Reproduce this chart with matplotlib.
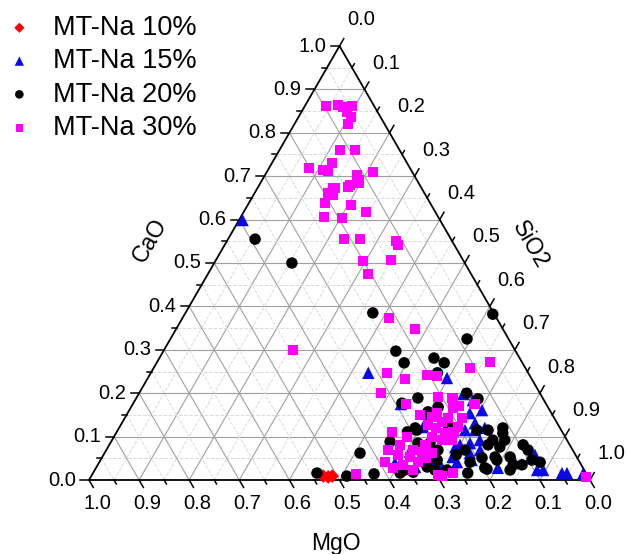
import numpy as np
import matplotlib.pyplot as plt

plt.rcParams['font.family'] = ['Liberation Sans', 'DejaVu Sans']

# compositions (CaO and SiO2 fractions, MgO is the balance)
na10_cao = [0.009, 0.007, 0.009]
na10_sio2 = [0.463, 0.474, 0.481]

na15_cao = [0.599, 0.247, 0.235, 0.175, 0.198, 0.184, 0.161, 0.154, 0.115, 0.092,
            0.085, 0.069, 0.053, 0.041, 0.035, 0.041, 0.065, 0.039, 0.030, 0.028,
            0.039, 0.058, 0.023, 0.023, 0.016, 0.016, 0.014, 0.062, 0.138, 0.122,
            0.046, 0.131, 0.081, 0.120, 0.115, 0.076]
na15_sio2 = [0.007, 0.434, 0.597, 0.535, 0.648, 0.674, 0.704, 0.683, 0.713, 0.734,
             0.718, 0.746, 0.699, 0.714, 0.684, 0.661, 0.608, 0.591, 0.636, 0.802,
             0.831, 0.861, 0.883, 0.895, 0.936, 0.946, 0.979, 0.729, 0.606, 0.606,
             0.741, 0.705, 0.700, 0.730, 0.693, 0.693]

na20_cao = [0.555, 0.500, 0.385, 0.382, 0.325, 0.297, 0.270, 0.281, 0.270, 0.247,
            0.200, 0.187, 0.062, 0.016, 0.009, 0.014, 0.016, 0.025, 0.120, 0.111,
            0.085, 0.085, 0.046, 0.030, 0.018, 0.016, 0.023, 0.023, 0.069, 0.157,
            0.189, 0.168, 0.115, 0.115, 0.092, 0.108, 0.081, 0.076, 0.051, 0.053,
            0.053, 0.081, 0.069, 0.035, 0.035, 0.046, 0.041, 0.028, 0.023, 0.120,
            0.046, 0.069, 0.115, 0.092, 0.046, 0.177, 0.127, 0.088, 0.023, 0.058,
            0.041]
na20_sio2 = [0.054, 0.155, 0.374, 0.615, 0.592, 0.464, 0.494, 0.548, 0.574, 0.572,
             0.654, 0.683, 0.510, 0.447, 0.510, 0.562, 0.748, 0.782, 0.591, 0.580,
             0.614, 0.638, 0.672, 0.660, 0.638, 0.613, 0.679, 0.703, 0.716, 0.598,
             0.562, 0.613, 0.717, 0.739, 0.760, 0.772, 0.756, 0.782, 0.759, 0.784,
             0.814, 0.826, 0.842, 0.829, 0.847, 0.861, 0.880, 0.776, 0.829, 0.766,
             0.652, 0.662, 0.597, 0.784, 0.791, 0.536, 0.653, 0.557, 0.619, 0.704,
             0.740]

na30_cao = [0.862, 0.864, 0.859, 0.862, 0.848, 0.836, 0.820, 0.760, 0.760, 0.719,
            0.714, 0.730, 0.712, 0.710, 0.703, 0.691, 0.680, 0.673, 0.638, 0.661,
            0.673, 0.675, 0.684, 0.657, 0.606, 0.604, 0.634, 0.618, 0.555, 0.555,
            0.551, 0.541, 0.505, 0.507, 0.475, 0.300, 0.373, 0.348, 0.258, 0.272,
            0.247, 0.233, 0.242, 0.240, 0.200, 0.175, 0.189, 0.171, 0.175, 0.111,
            0.099, 0.014, 0.028, 0.016, 0.009, 0.145, 0.154, 0.134, 0.108, 0.111,
            0.092, 0.092, 0.122, 0.166, 0.069, 0.065, 0.053, 0.041, 0.035, 0.023,
            0.062, 0.012, 0.007, 0.081, 0.081, 0.041, 0.150, 0.127, 0.120, 0.099,
            0.143, 0.143, 0.191, 0.058, 0.069, 0.051]
na30_sio2 = [0.042, 0.065, 0.077, 0.094, 0.091, 0.105, 0.107, 0.121, 0.151, 0.080,
             0.110, 0.120, 0.121, 0.212, 0.184, 0.193, 0.181, 0.151, 0.152, 0.146,
             0.155, 0.179, 0.197, 0.159, 0.166, 0.203, 0.206, 0.244, 0.231, 0.263,
             0.338, 0.346, 0.295, 0.350, 0.320, 0.257, 0.412, 0.477, 0.631, 0.664,
             0.472, 0.515, 0.554, 0.575, 0.483, 0.545, 0.631, 0.652, 0.682, 0.550,
             0.585, 0.526, 0.593, 0.719, 0.700, 0.612, 0.618, 0.638, 0.657, 0.672,
             0.659, 0.679, 0.676, 0.644, 0.612, 0.633, 0.614, 0.636, 0.610, 0.635,
             0.654, 0.691, 0.988, 0.631, 0.581, 0.570, 0.586, 0.613, 0.633, 0.635,
             0.645, 0.673, 0.601, 0.588, 0.562, 0.647]

ticks = np.round(np.arange(0, 1.01, 0.1), 1)
H = np.sqrt(3) / 2


def tern(cao, sio2):
    cao = np.asarray(cao, dtype=float)
    sio2 = np.asarray(sio2, dtype=float)
    return sio2 + cao / 2, cao * H


fig = plt.figure(figsize=(6.27, 5.54), dpi=100)
ax = fig.add_axes([89 / 627, 74 / 554, 501 / 627, 434 / 554])
ax.set_xlim(0, 1)
ax.set_ylim(0, H)
ax.axis('off')

# grid: solid every 0.1, dashed every 0.05
for k in range(1, 20):
    v = k / 20
    major = k % 2 == 0
    kw = dict(color='#a0a0a0', lw=0.8, ls='-') if major else dict(color='#dadada', lw=0.7, ls='--')
    for a, b in [((v, 0), (v, 1 - v)), ((0, v), (1 - v, v)), ((1 - v, 0), (0, 1 - v))]:
        x, y = tern([a[0], b[0]], [a[1], b[1]])
        ax.plot(x, y, zorder=1, **kw)

# frame
x, y = tern([0, 1, 0, 0], [0, 0, 1, 0])
ax.plot(x, y, color='black', lw=1.3, zorder=3, clip_on=False)

# ticks and labels
for k in range(0, 21):
    v = k / 20
    ln = 0.017 if k % 2 == 0 else 0.009
    # left (CaO)
    x0, y0 = tern(v, 0)
    ax.plot([x0, x0 - ln], [y0, y0], color='black', lw=1.1, clip_on=False)
    # bottom (MgO): MgO = v at x = 1 - v
    xb = 1 - v
    ax.plot([xb, xb + 0.5 * ln], [0, -H * ln], color='black', lw=1.1, clip_on=False)
    # right (SiO2)
    xr, yr = tern(1 - v, v)
    ax.plot([xr, xr + 0.5 * ln], [yr, yr + H * ln], color='black', lw=1.1, clip_on=False)

for t in ticks:
    lab = f'{t:.1f}'
    x0, y0 = tern(t, 0)
    ax.text(x0 - 0.026, y0, lab, ha='right', va='center', fontsize=14.5)
    ax.text(1 - t + 0.016, -0.027, lab, ha='center', va='top', fontsize=14.5)
    xr, yr = tern(1 - t, t)
    ax.text(xr + 0.043, yr + 0.052, lab, ha='center', va='center', fontsize=14.5)

ax.text(0.493, -0.126, 'MgO', ha='center', va='center', fontsize=16.5)
ax.text(0.122, 0.479, 'CaO', ha='center', va='center', rotation=60, fontsize=16.5)
ax.text(0.880, 0.469, 'SiO2', ha='center', va='center', rotation=-60, fontsize=16.5)

series = [
    ('MT-Na 10%', na10_cao, na10_sio2, 'D', '#ff0000', 48),
    ('MT-Na 15%', na15_cao, na15_sio2, '^', '#0a0ae6', 80),
    ('MT-Na 20%', na20_cao, na20_sio2, 'o', 'black', 68),
    ('MT-Na 30%', na30_cao, na30_sio2, 's', '#ff00ff', 54),
]
handles = []
for i, (name, cao, sio2, m, c, s) in enumerate(series):
    x, y = tern(cao, sio2)
    h = ax.scatter(x, y, marker=m, s=s, color=c, edgecolors='none', label=name,
                   zorder=4 + i, clip_on=False)
    handles.append(h)

fig.legend(handles=handles, loc='upper left', bbox_to_anchor=(-0.008, 1.0),
           frameon=False, fontsize=19.5, handletextpad=0.9, labelspacing=0.27,
           borderaxespad=0.15, handlelength=0.7, scatterpoints=1, markerscale=0.75)

fig.savefig('out.png', dpi=100)
